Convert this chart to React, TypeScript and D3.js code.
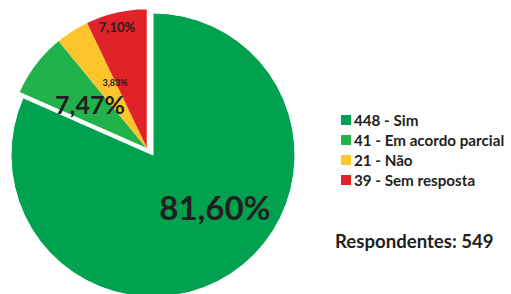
import React, { useRef, useEffect } from "react";
import * as d3 from "d3";

const labels = ["Sim", "Em acordo parcial", "Não", "Sem resposta"];
const counts = [448, 41, 21, 39];
const pctLabels = ["81,60%", "7,47%", "3,83%", "7,10%"];
const colors = ["#00a14f", "#22b24c", "#fdc52c", "#e02229"];
const total = 549;

const App = () => {
  const svgRef = useRef<SVGSVGElement>(null);

  useEffect(() => {
    const svg = d3.select(svgRef.current);
    svg.selectAll("*").remove();

    const radius = 142;
    const cx = 153, cy = 155; // big slice center
    const ex = -5, ey = -5;   // small slices pulled out

    const pie = d3.pie<number>().sort(null).value((d) => d);
    const arcs = pie(counts);
    const arc = d3.arc<d3.PieArcDatum<number>>().innerRadius(0).outerRadius(radius);

    const font = "Lato, 'Open Sans', sans-serif";

    // big slice
    const big = svg.append("g").attr("transform", `translate(${cx},${cy})`);
    big.append("path")
      .attr("d", arc(arcs[0]))
      .attr("fill", colors[0])
      .attr("stroke", "#fff")
      .attr("stroke-width", 1);

    // the other three, shifted together
    const small = svg.append("g").attr("transform", `translate(${cx + ex},${cy + ey})`);
    small.selectAll("path.s")
      .data(arcs.slice(1))
      .enter()
      .append("path")
      .attr("class", "s")
      .attr("d", (d) => arc(d))
      .attr("fill", (d, i) => colors[i + 1]);
    small.append("path")
      .attr("d", d3.arc()({
        innerRadius: 0,
        outerRadius: radius,
        startAngle: arcs[1].startAngle,
        endAngle: arcs[3].endAngle,
      }))
      .attr("fill", "none")
      .attr("stroke", "#fff")
      .attr("stroke-width", 2.5);

    // percentage labels
    const lab = [
      { x: cx + 62, y: cy + 65, size: 33 },
      { x: cx - 63, y: cy - 41, size: 25 },
      { x: cx - 38, y: cy - 69, size: 9 },
      { x: cx - 36, y: cy - 123, size: 13 },
    ];
    svg.selectAll("text.pct")
      .data(pctLabels)
      .enter()
      .append("text")
      .attr("class", "pct")
      .attr("x", (d, i) => lab[i].x)
      .attr("y", (d, i) => lab[i].y)
      .attr("text-anchor", "middle")
      .attr("font-family", font)
      .attr("font-weight", "bold")
      .attr("font-size", (d, i) => lab[i].size)
      .attr("fill", "#231f20")
      .text((d) => d);

    // legend
    const legend = svg.append("g").attr("transform", "translate(341,115)");
    const row = legend.selectAll("g")
      .data(counts)
      .enter()
      .append("g")
      .attr("transform", (d, i) => `translate(0,${i * 20})`);
    row.append("rect")
      .attr("width", 10)
      .attr("height", 10)
      .attr("fill", (d, i) => colors[i]);
    row.append("text")
      .attr("x", 13)
      .attr("y", 10.5)
      .attr("font-family", font)
      .attr("font-weight", "bold")
      .attr("font-size", 15.2)
      .attr("fill", "#231f20")
      .text((d, i) => `${d} - ${labels[i]}`);

    svg.append("text")
      .attr("x", 335)
      .attr("y", 248)
      .attr("font-family", font)
      .attr("font-weight", "bold")
      .attr("font-size", 18.6)
      .attr("fill", "#231f20")
      .text(`Respondentes: ${total}`);
  }, []);

  return (
    <svg
      ref={svgRef}
      width={511}
      height={294}
      style={{ position: "absolute", left: 0, top: 0, background: "#fff" }}
    />
  );
};

export default App;
